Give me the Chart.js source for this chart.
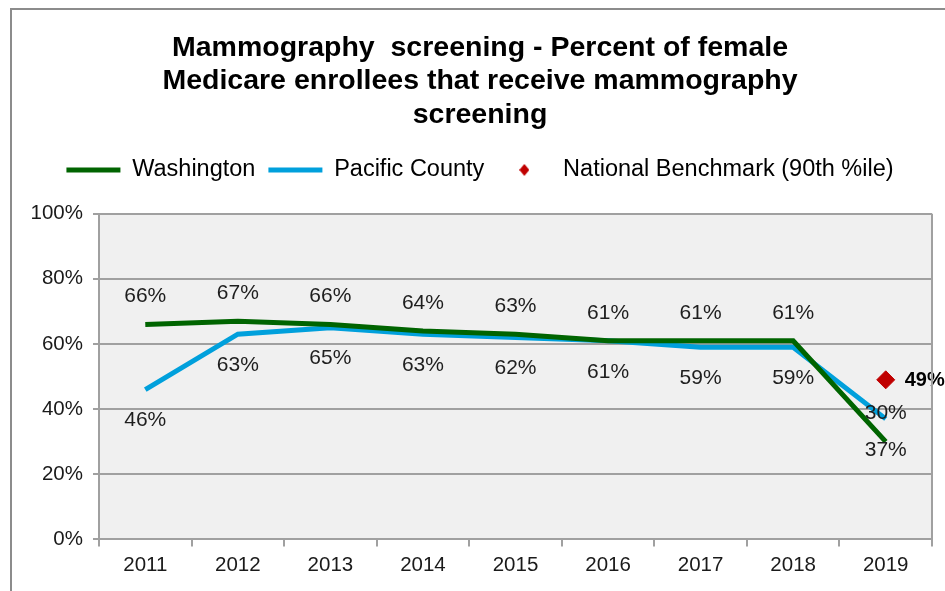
<!DOCTYPE html>
<html>
<head>
<meta charset="utf-8">
<script src="https://cdn.jsdelivr.net/npm/chart.js@4"></script>
<style>
  body { margin: 0; background: #fff; }
  #wrap { position: relative; width: 945px; height: 591px; }
  #frame {
    position: absolute; left: 10px; top: 8px; right: -10px; bottom: -10px;
    border-left: 2px solid #8c8c8c; border-top: 2px solid #8c8c8c;
    pointer-events: none;
  }
  canvas { position: absolute; left: 0; top: 0; }
</style>
</head>
<body>
<div id="wrap">
  <canvas id="myChart" width="945" height="591"></canvas>
  <div id="frame"></div>
</div>
<script>
const years = ["2011", "2012", "2013", "2014", "2015", "2016", "2017", "2018", "2019"];
const washington = [66, 67, 66, 64, 63, 61, 61, 61, 30];
const pacificCounty = [46, 63, 65, 63, 62, 61, 59, 59, 37];
const benchmark = [null, null, null, null, null, null, null, null, 49];
const yTicks = [0, 20, 40, 60, 80, 100];

const FONT = "'Liberation Sans', Arial, sans-serif";

// small diamond for the legend
const legendDiamond = document.createElement("canvas");
legendDiamond.width = 10;
legendDiamond.height = 12;
(function () {
  const c = legendDiamond.getContext("2d");
  c.fillStyle = "#c00000";
  c.beginPath();
  c.moveTo(5, 0);
  c.lineTo(10, 6);
  c.lineTo(5, 12);
  c.lineTo(0, 6);
  c.closePath();
  c.fill();
})();

// grey plot background
const plotBg = {
  id: "plotBg",
  beforeDraw(chart) {
    const { ctx, chartArea: a } = chart;
    ctx.save();
    ctx.fillStyle = "#f0f0f0";
    ctx.fillRect(a.left, a.top, a.right - a.left, a.bottom - a.top);
    ctx.restore();
  },
  afterInit(chart) {
    // extra gap between legend and plot
    const lg = chart.legend;
    const fit = lg.fit.bind(lg);
    lg.fit = function () {
      fit();
      this.height += 22;
    };
  },
};

// right border of plot
const plotEdge = {
  id: "plotEdge",
  afterDraw(chart) {
    const { ctx, chartArea: a } = chart;
    ctx.save();
    ctx.strokeStyle = "#a0a0a0";
    ctx.lineWidth = 2;
    ctx.beginPath();
    ctx.moveTo(a.right, a.top);
    ctx.lineTo(a.right, a.bottom);
    ctx.stroke();
    ctx.restore();
  },
};

// value labels
const valueLabels = {
  id: "valueLabels",
  afterDatasetsDraw(chart) {
    const ctx = chart.ctx;
    ctx.save();
    chart.data.datasets.forEach((ds, i) => {
      const meta = chart.getDatasetMeta(i);
      meta.data.forEach((pt, j) => {
        const v = ds.data[j];
        if (v == null) return;
        if (i === 2) {
          ctx.font = "bold 20px " + FONT;
          ctx.fillStyle = "#000";
          ctx.textAlign = "left";
          ctx.textBaseline = "middle";
          ctx.fillText(v + "%", pt.x + 19, pt.y + 1);
        } else {
          ctx.font = "21px " + FONT;
          ctx.fillStyle = "#1e1e1e";
          ctx.textAlign = "center";
          ctx.textBaseline = "middle";
          const dy = i === 0 ? -28 : 31;
          ctx.fillText(v + "%", pt.x, pt.y + dy);
        }
      });
    });
    ctx.restore();
  },
};

new Chart("myChart", {
  type: "line",
  data: {
    labels: years,
    datasets: [
      {
        label: "Washington",
        data: washington,
        borderColor: "#006400",
        backgroundColor: "#006400",
        borderWidth: 5,
        pointRadius: 0,
        pointStyle: "line",
        tension: 0,
      },
      {
        label: "Pacific County",
        data: pacificCounty,
        borderColor: "#00a0dc",
        backgroundColor: "#00a0dc",
        borderWidth: 5,
        pointRadius: 0,
        pointStyle: "line",
        tension: 0,
      },
      {
        label: "National Benchmark (90th %ile)",
        data: benchmark,
        showLine: false,
        borderColor: "#c00000",
        backgroundColor: "#c00000",
        borderWidth: 1,
        pointStyle: "rectRot",
        pointRadius: 9,
      },
    ],
  },
  options: {
    responsive: false,
    animation: false,
    layout: { padding: { left: 28, right: 13, top: 0, bottom: 6 } },
    scales: {
      x: {
        offset: true,
        grid: {
          offset: true,
          drawOnChartArea: false,
          drawTicks: true,
          tickLength: 7,
          color: "#a0a0a0",
          lineWidth: 2,
        },
        border: { color: "#a0a0a0", width: 2 },
        ticks: { color: "#1a1a1a", font: { family: FONT, size: 20.5 }, padding: 7 },
      },
      y: {
        min: 0,
        max: 100,
        afterBuildTicks: (axis) => {
          axis.ticks = yTicks.map((v) => ({ value: v }));
        },
        afterFit: (axis) => {
          axis.width = 71;
        },
        grid: { color: "#a0a0a0", lineWidth: 2, tickLength: 6 },
        border: { color: "#a0a0a0", width: 2 },
        ticks: {
          color: "#1a1a1a",
          font: { family: FONT, size: 20.5 },
          padding: 10,
          callback: (v) => v + "%",
        },
      },
    },
    plugins: {
      title: {
        display: true,
        text: [
          "Mammography  screening - Percent of female",
          "Medicare enrollees that receive mammography",
          "screening",
        ],
        color: "#000",
        font: { family: FONT, size: 28.5, weight: "bold", lineHeight: 1.16 },
        padding: { top: 32, bottom: 14 },
      },
      legend: {
        labels: {
          usePointStyle: true,
          pointStyleWidth: 54,
          boxHeight: 7,
          color: "#000",
          font: { family: FONT, size: 23.5 },
          padding: 13,
          generateLabels: (chart) => {
            const items = Chart.defaults.plugins.legend.labels.generateLabels(chart);
            items[2].pointStyle = legendDiamond;
            return items;
          },
        },
      },
      tooltip: { enabled: false },
    },
  },
  plugins: [plotBg, plotEdge, valueLabels],
});
</script>
</body>
</html>
